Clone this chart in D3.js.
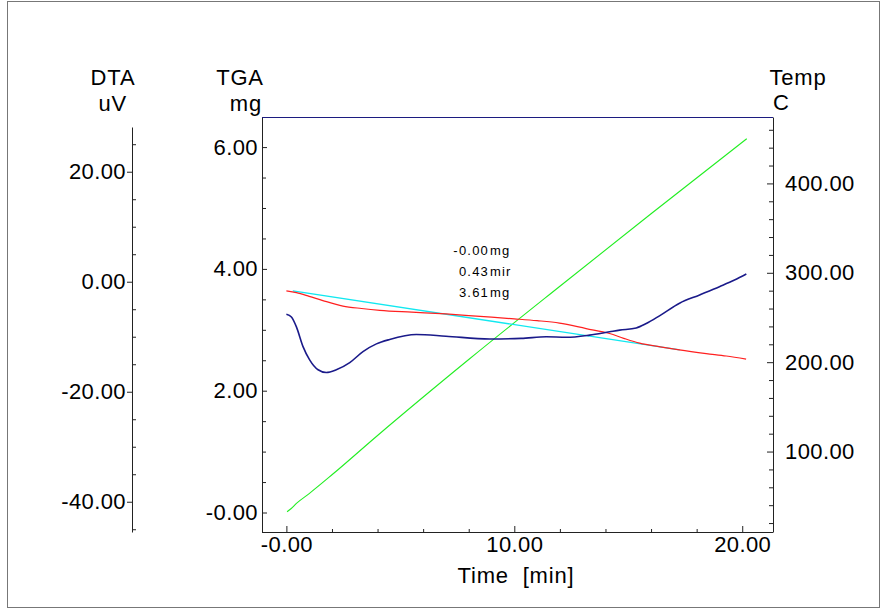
<!DOCTYPE html>
<html>
<head>
<meta charset="utf-8">
<script src="https://cdn.jsdelivr.net/npm/d3@7"></script>
<style>
  body { margin: 0; background: #fff; }
  svg text { font-family: "Liberation Sans", Arial, sans-serif; fill: #000; }
</style>
</head>
<body>
<svg id="chart"></svg>
<script>
// time axis (min)
const timeTicks = [0, 10, 20];
const timeTickLabels = ["-0.00", "10.00", "20.00"];
const timeMinorTicks = [2, 4, 6, 8, 12, 14, 16, 18];

// left axes
const tgaTicks = [0, 2, 4, 6];
const tgaTickLabels = ["-0.00", "2.00", "4.00", "6.00"];
const tgaMinorTicks = [0.5, 1, 1.5, 2.5, 3, 3.5, 4.5, 5, 5.5];
const dtaTicks = [-40, -20, 0, 20];
const dtaTickLabels = ["-40.00", "-20.00", "0.00", "20.00"];
const dtaMinorTicks = [-45, -35, -30, -25, -15, -10, -5, 5, 10, 15, 25];

// right axis
const tempTicks = [100, 200, 300, 400];
const tempTickLabels = ["100.00", "200.00", "300.00", "400.00"];
const tempMinorTicks = [20, 40, 60, 80, 120, 140, 160, 180, 220, 240, 260, 280,
  320, 340, 360, 380, 420, 440, 460];

// DTA curve (uV)
const dtaTime = [0, 0.22, 0.44, 0.73, 1.02, 1.39, 1.75, 2.19, 2.78, 3.36, 3.95,
  4.53, 5.7, 7.0, 8.92, 10.3, 11.4, 12.28, 13.3, 14.18, 14.62, 15.35, 15.79,
  16.37, 17.25, 18.13, 19.0, 19.66, 20.18];
const dtaValues = [-5.9, -6.4, -8.2, -11.8, -14.2, -16.0, -16.5, -16.0, -14.7,
  -12.7, -11.3, -10.5, -9.6, -9.9, -10.4, -10.3, -10.0, -10.1, -9.7, -9.1, -8.8,
  -8.4, -7.6, -6.2, -3.9, -2.4, -0.9, 0.3, 1.4];

// TGA curve (mg)
const tgaTime = [0, 0.44, 1.0, 1.6, 2.48, 3.3, 4.1, 5.5, 7.0, 8.5, 10.0, 11.0,
  11.98, 13.15, 14.18, 14.8, 15.5, 16.4, 17.24, 18.42, 19.3, 20.17];
const tgaValues = [3.64, 3.61, 3.55, 3.48, 3.39, 3.35, 3.32, 3.29, 3.26, 3.22,
  3.18, 3.15, 3.11, 3.02, 2.94, 2.86, 2.78, 2.72, 2.67, 2.61, 2.57, 2.52];

// tangent line on TGA
const tangentTime = [0.28, 17.26];
const tangentValues = [3.64, 2.67];

// temperature (C)
const tempTime = [0.03, 0.2, 0.44, 1, 2, 4, 8, 12, 16, 20.2];
const tempValues = [32.7, 36, 42, 53, 74, 118, 203, 285, 366, 450];

// analysis result
const resultNumbers = ["-0.00", "0.43", "3.61"];
const resultUnits = ["mg", "mir", "mg"];

const width = 882;
const height = 612;
const plotLeft = 262;
const plotRight = 773;
const plotTop = 117;
const plotBottom = 532;
const dtaAxisX = 132;

const svg = d3.select("#chart").attr("width", width).attr("height", height);

// outer frame
svg
  .append("rect")
  .attr("x", 7.5)
  .attr("y", 1.5)
  .attr("width", 872)
  .attr("height", 606)
  .attr("fill", "none")
  .attr("stroke", "#777");

const xScale = d3.scaleLinear().domain([-1.07, 21.35]).range([plotLeft, plotRight]);
const tgaScale = d3.scaleLinear().domain([-0.32, 6.494]).range([plotBottom, plotTop]);
const tempScale = d3.scaleLinear().domain([10, 474.3]).range([plotBottom, plotTop]);
const dtaScale = d3.scaleLinear().domain([-45.5, 28.13]).range([plotBottom, 127]);

const labelOf = (ticks, labels) => (d) => labels[ticks.indexOf(d)];

const styleAxis = (g, size) => {
  g.selectAll("text").style("font-size", size + "px").style("letter-spacing", "0.4px");
  g.selectAll("line").attr("stroke", "#222");
  g.select(".domain").attr("stroke", "#222");
};

// x axis
const xAxisG = svg.append("g").attr("transform", "translate(0," + plotBottom + ")");
xAxisG.call(
  d3.axisBottom(xScale).tickValues(timeMinorTicks).tickSize(-3).tickSizeOuter(0).tickFormat("")
);
xAxisG
  .append("g")
  .call(
    d3.axisBottom(xScale)
      .tickValues(timeTicks)
      .tickSize(-6)
      .tickSizeOuter(0)
      .tickPadding(4)
      .tickFormat(labelOf(timeTicks, timeTickLabels))
  )
  .call((g) => g.select(".domain").remove());
styleAxis(xAxisG, 22);
xAxisG.select(".domain").attr("d", "M" + plotLeft + ",0.5H" + plotRight);

// TGA axis
const tgaAxisG = svg.append("g").attr("transform", "translate(" + plotLeft + ",0)");
tgaAxisG.call(
  d3.axisLeft(tgaScale).tickValues(tgaMinorTicks).tickSize(-4).tickSizeOuter(0).tickFormat("")
);
tgaAxisG
  .append("g")
  .call(
    d3.axisLeft(tgaScale)
      .tickValues(tgaTicks)
      .tickSize(-5)
      .tickSizeOuter(0)
      .tickPadding(4)
      .tickFormat(labelOf(tgaTicks, tgaTickLabels))
  )
  .call((g) => g.select(".domain").remove());
styleAxis(tgaAxisG, 22);

// Temp axis
const tempAxisG = svg.append("g").attr("transform", "translate(" + plotRight + ",0)");
tempAxisG.call(
  d3.axisRight(tempScale).tickValues(tempMinorTicks).tickSize(-4).tickSizeOuter(0).tickFormat("")
);
tempAxisG
  .append("g")
  .call(
    d3.axisRight(tempScale)
      .tickValues(tempTicks)
      .tickSize(-6)
      .tickSizeOuter(0)
      .tickPadding(12)
      .tickFormat(labelOf(tempTicks, tempTickLabels))
  )
  .call((g) => g.select(".domain").remove());
styleAxis(tempAxisG, 22);

// DTA axis
const dtaAxisG = svg.append("g").attr("transform", "translate(" + dtaAxisX + ",0)");
dtaAxisG.call(
  d3.axisLeft(dtaScale).tickValues(dtaMinorTicks).tickSize(-4).tickSizeOuter(0).tickFormat("")
);
dtaAxisG
  .append("g")
  .call(
    d3.axisLeft(dtaScale)
      .tickValues(dtaTicks)
      .tickSize(5)
      .tickSizeOuter(0)
      .tickPadding(1)
      .tickFormat(labelOf(dtaTicks, dtaTickLabels))
  )
  .call((g) => g.select(".domain").remove());
styleAxis(dtaAxisG, 22);

// navy top line
svg
  .append("line")
  .attr("x1", plotLeft)
  .attr("x2", plotRight)
  .attr("y1", plotTop + 0.5)
  .attr("y2", plotTop + 0.5)
  .attr("stroke", "#1c1c80")
  .attr("stroke-width", 1.2);

// axis titles
const titles = [
  { text: "DTA", x: 113, y: 85, anchor: "middle" },
  { text: "uV", x: 127, y: 111, anchor: "end" },
  { text: "TGA", x: 240, y: 85, anchor: "middle" },
  { text: "mg", x: 262, y: 111, anchor: "end" },
  { text: "Temp", x: 798, y: 85, anchor: "middle" },
  { text: "C", x: 773, y: 110, anchor: "start" },
  { text: "Time  [min]", x: 516, y: 583, anchor: "middle" },
];
svg
  .selectAll("text.title")
  .data(titles)
  .enter()
  .append("text")
  .attr("class", "title")
  .attr("x", (d) => d.x)
  .attr("y", (d) => d.y)
  .attr("text-anchor", (d) => d.anchor)
  .style("font-size", "22px")
  .style("letter-spacing", "0.8px")
  .style("white-space", "pre")
  .text((d) => d.text);

// curves
const drawCurve = (times, values, yScale, color, widthPx) => {
  const pts = times.map((t, i) => [t, values[i]]);
  svg
    .append("path")
    .datum(pts)
    .attr("fill", "none")
    .attr("stroke", color)
    .attr("stroke-width", widthPx)
    .attr(
      "d",
      d3.line()
        .x((d) => xScale(d[0]))
        .y((d) => yScale(d[1]))
        .curve(d3.curveMonotoneX)
    );
};

drawCurve(tempTime, tempValues, tempScale, "#22ee22", 1.1);
drawCurve(tangentTime, tangentValues, tgaScale, "#11e8f0", 1.3);
drawCurve(tgaTime, tgaValues, tgaScale, "#ff2020", 1.2);
drawCurve(dtaTime, dtaValues, dtaScale, "#1a1a8a", 1.6);

// result annotation
const resultBaselines = [255, 276, 297];
svg
  .selectAll("text.num")
  .data(resultNumbers)
  .enter()
  .append("text")
  .attr("class", "num")
  .attr("x", 489)
  .attr("y", (d, i) => resultBaselines[i])
  .attr("text-anchor", "end")
  .style("font-size", "13px")
  .style("letter-spacing", "1.2px")
  .text((d) => d);
svg
  .selectAll("text.unit")
  .data(resultUnits)
  .enter()
  .append("text")
  .attr("class", "unit")
  .attr("x", 490)
  .attr("y", (d, i) => resultBaselines[i])
  .style("font-size", "13px")
  .style("letter-spacing", "1.2px")
  .text((d) => d);
</script>
</body>
</html>
